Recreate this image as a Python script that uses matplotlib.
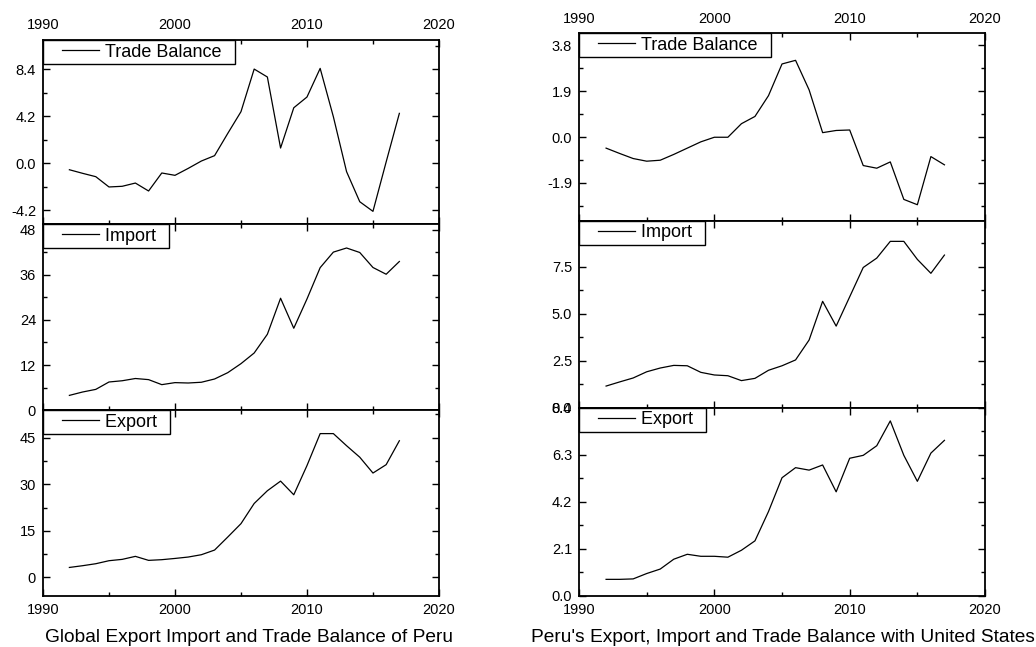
import numpy as np
import matplotlib
matplotlib.use('Agg')
import matplotlib.pyplot as plt
from matplotlib.ticker import MultipleLocator, FixedLocator
from matplotlib.legend_handler import HandlerLine2D

plt.rcParams['font.family'] = ['Liberation Sans', 'DejaVu Sans']

years = list(range(1992, 2018))

# Peru, global trade (left column)
world_balance = [-0.6, -0.92, -1.22, -2.14, -2.08, -1.79, -2.5, -0.89, -1.1, -0.48,
                 0.18, 0.66, 2.65, 4.59, 8.4, 7.69, 1.34, 4.94, 5.9, 8.46,
                 4.14, -0.77, -3.46, -4.32, 0.1, 4.44]
world_import = [3.9, 4.8, 5.5, 7.47, 7.8, 8.4, 8.1, 6.76, 7.3, 7.2,
                7.4, 8.27, 9.96, 12.36, 15.2, 20.2, 29.8, 21.8, 29.6, 37.96,
                42.1, 43.2, 42.0, 38.0, 36.2, 39.6]
world_export = [3.2, 3.76, 4.4, 5.37, 5.8, 6.77, 5.48, 5.7, 6.1, 6.55,
                7.3, 8.8, 13.0, 17.3, 23.8, 27.9, 31.0, 26.6, 36.0, 46.3,
                46.3, 42.4, 38.7, 33.6, 36.3, 44.0]

# Peru with United States (right column)
us_balance = [-0.46, -0.68, -0.89, -1.0, -0.96, -0.72, -0.46, -0.2, -0.01, -0.01,
              0.55, 0.85, 1.71, 3.02, 3.17, 1.95, 0.18, 0.27, 0.29, -1.18,
              -1.29, -1.03, -2.58, -2.8, -0.81, -1.15]
us_import = [1.15, 1.37, 1.58, 1.91, 2.11, 2.25, 2.23, 1.88, 1.74, 1.70,
             1.44, 1.56, 1.99, 2.23, 2.54, 3.6, 5.66, 4.34, 5.9, 7.46,
             7.96, 8.85, 8.85, 7.89, 7.15, 8.12]
us_export = [0.73, 0.73, 0.75, 0.99, 1.19, 1.63, 1.85, 1.76, 1.76, 1.72,
             2.03, 2.45, 3.76, 5.27, 5.72, 5.61, 5.84, 4.64, 6.14, 6.27,
             6.70, 7.81, 6.27, 5.11, 6.37, 6.94]


class PaddedLine(HandlerLine2D):
    # legend line that starts a bit further in from the frame (Origin style)
    def create_artists(self, legend, orig_handle, xdescent, ydescent, width,
                       height, fontsize, trans):
        p = 11
        return super().create_artists(legend, orig_handle, xdescent - p, ydescent,
                                      width - p, height, fontsize, trans)


fig = plt.figure(figsize=(10.36, 6.47), dpi=100)

left_x, left_w = 0.0415, 0.3822
right_x, right_w = 0.5589, 0.3919
left_rows = [(0.6538, 0.2844), (0.3663, 0.2875), (0.0788, 0.2875)]
right_rows = [(0.6589, 0.2901), (0.3699, 0.2890), (0.0793, 0.2906)]

panels = [
    # x, w, row, data, label, ylim, major, minor, label format
    (left_x, left_w, left_rows[0], world_balance, 'Trade Balance', (-5.45, 11.0),
     [-4.2, 0.0, 4.2, 8.4], np.arange(-4.2, 11.0, 2.1), '%.1f'),
    (left_x, left_w, left_rows[1], world_import, 'Import', (0, 49.6),
     [0, 12, 24, 36, 48], np.arange(0, 49.6, 6), '%d'),
    (left_x, left_w, left_rows[2], world_export, 'Export', (-6.0, 53.9),
     [0, 15, 30, 45], np.arange(0, 53.9, 7.5), '%d'),
    (right_x, right_w, right_rows[0], us_balance, 'Trade Balance', (-3.46, 4.3),
     [-1.9, 0.0, 1.9, 3.8], np.arange(-2.85, 4.3, 0.95), '%.1f'),
    (right_x, right_w, right_rows[1], us_import, 'Import', (0, 9.95),
     [0.0, 2.5, 5.0, 7.5], np.arange(0, 9.9, 1.25), '%.1f'),
    (right_x, right_w, right_rows[2], us_export, 'Export', (0, 8.4),
     [0.0, 2.1, 4.2, 6.3, 8.4], np.arange(0, 8.45, 1.05), '%.1f'),
]

for i, (x0, w, (y0, h), vals, lab, ylim, major, minor, fmt) in enumerate(panels):
    ax = fig.add_axes([x0, y0, w, h])
    line, = ax.plot(years, vals, color='black', lw=0.9)
    ax.set_xlim(1990, 2020)
    ax.set_ylim(*ylim)
    ax.xaxis.set_major_locator(MultipleLocator(10))
    ax.xaxis.set_minor_locator(MultipleLocator(5))
    ax.yaxis.set_major_locator(FixedLocator(major))
    ax.yaxis.set_minor_locator(FixedLocator(minor))
    ax.set_yticklabels([fmt % v for v in major])
    ax.tick_params(which='both', direction='in', top=True, right=True,
                   width=1, labelsize=10.5, colors='black')
    ax.tick_params(which='major', length=5)
    ax.tick_params(which='minor', length=3)
    ax.tick_params(axis='y', pad=5)
    row = i % 3
    if row == 0:
        ax.tick_params(axis='x', labeltop=True, labelbottom=False, pad=6 if i < 3 else 5)
    elif row == 1:
        ax.tick_params(axis='x', labelbottom=False)
    else:
        ax.tick_params(axis='x', pad=5)
    for s in ax.spines.values():
        s.set_linewidth(1.3)
    leg = ax.legend([line], [lab + '  '], loc='upper left', borderaxespad=0,
                    fontsize=13, fancybox=False, framealpha=1, edgecolor='black',
                    handlelength=2.88, handletextpad=0.33, borderpad=0.2,
                    handler_map={line: PaddedLine()})
    leg.get_frame().set_linewidth(1.0)
    for l in leg.get_lines():
        l.set_linewidth(0.9)

fig.text(0.24, 1 - 637 / 647, 'Global Export Import and Trade Balance of Peru',
         ha='center', va='center', fontsize=13.8)
fig.text(0.756, 1 - 637 / 647, "Peru's Export, Import and Trade Balance with United States",
         ha='center', va='center', fontsize=13.8)

fig.savefig('out.png', dpi=100)
